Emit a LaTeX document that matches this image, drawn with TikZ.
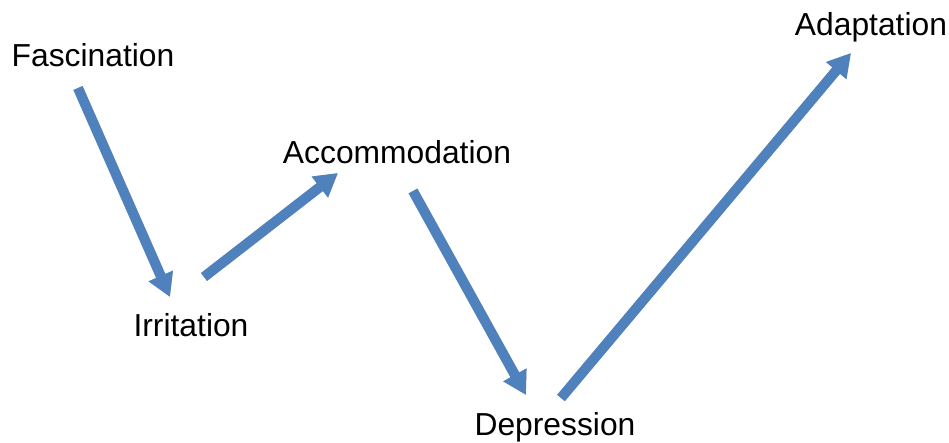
\documentclass[tikz,border=0pt]{standalone}
\usepackage{fontspec}
\setmainfont{Liberation Sans}
\usetikzlibrary{arrows.meta}
\definecolor{stageblue}{HTML}{4F81BD}
\definecolor{stageshadow}{HTML}{BDBDBD}
\begin{document}
\begin{tikzpicture}
		[x=0.5pt, y=-0.5pt,
		stage/.style={
			anchor=base,
			inner sep=0pt,
			font=\fontsize{15.9}{18}\selectfont
		},
		bluearrow/.style={draw=stageblue,line width=5pt,-{Triangle[width=12.5pt,length=11.5pt]}},
		shadowarrow/.style={draw=stageshadow,line width=5pt,-{Triangle[width=12.5pt,length=11.5pt]},shift={(2,2)}}]
		\useasboundingbox (0,0) rectangle (949,443);
		% stages
		\node[stage] (fascination) at (93,67) {Fascination};
		\node[stage] (irritation) at (191,337) {Irritation};
		\node[stage] (accommodation) at (397,164) {Accommodation};
		\node[stage] (depression) at (555,436) {Depression};
		\node[stage] (adaptation) at (871,36) {Adaptation};
		% arrow ends
		\coordinate (fas out) at (78,88);
		\coordinate (irr in) at (170,297);
		\coordinate (irr out) at (204,277);
		\coordinate (acc in) at (338,173);
		\coordinate (acc out) at (413,191);
		\coordinate (dep in) at (526,395);
		\coordinate (dep out) at (561,398);
		\coordinate (ada in) at (851,53);
		% arrows
		\foreach \a/\b in {fas out/irr in, irr out/acc in, acc out/dep in, dep out/ada in}
		{
			\draw[shadowarrow] (\a) -- (\b);
			\draw[bluearrow] (\a) -- (\b);
		}
\end{tikzpicture}
\end{document}
